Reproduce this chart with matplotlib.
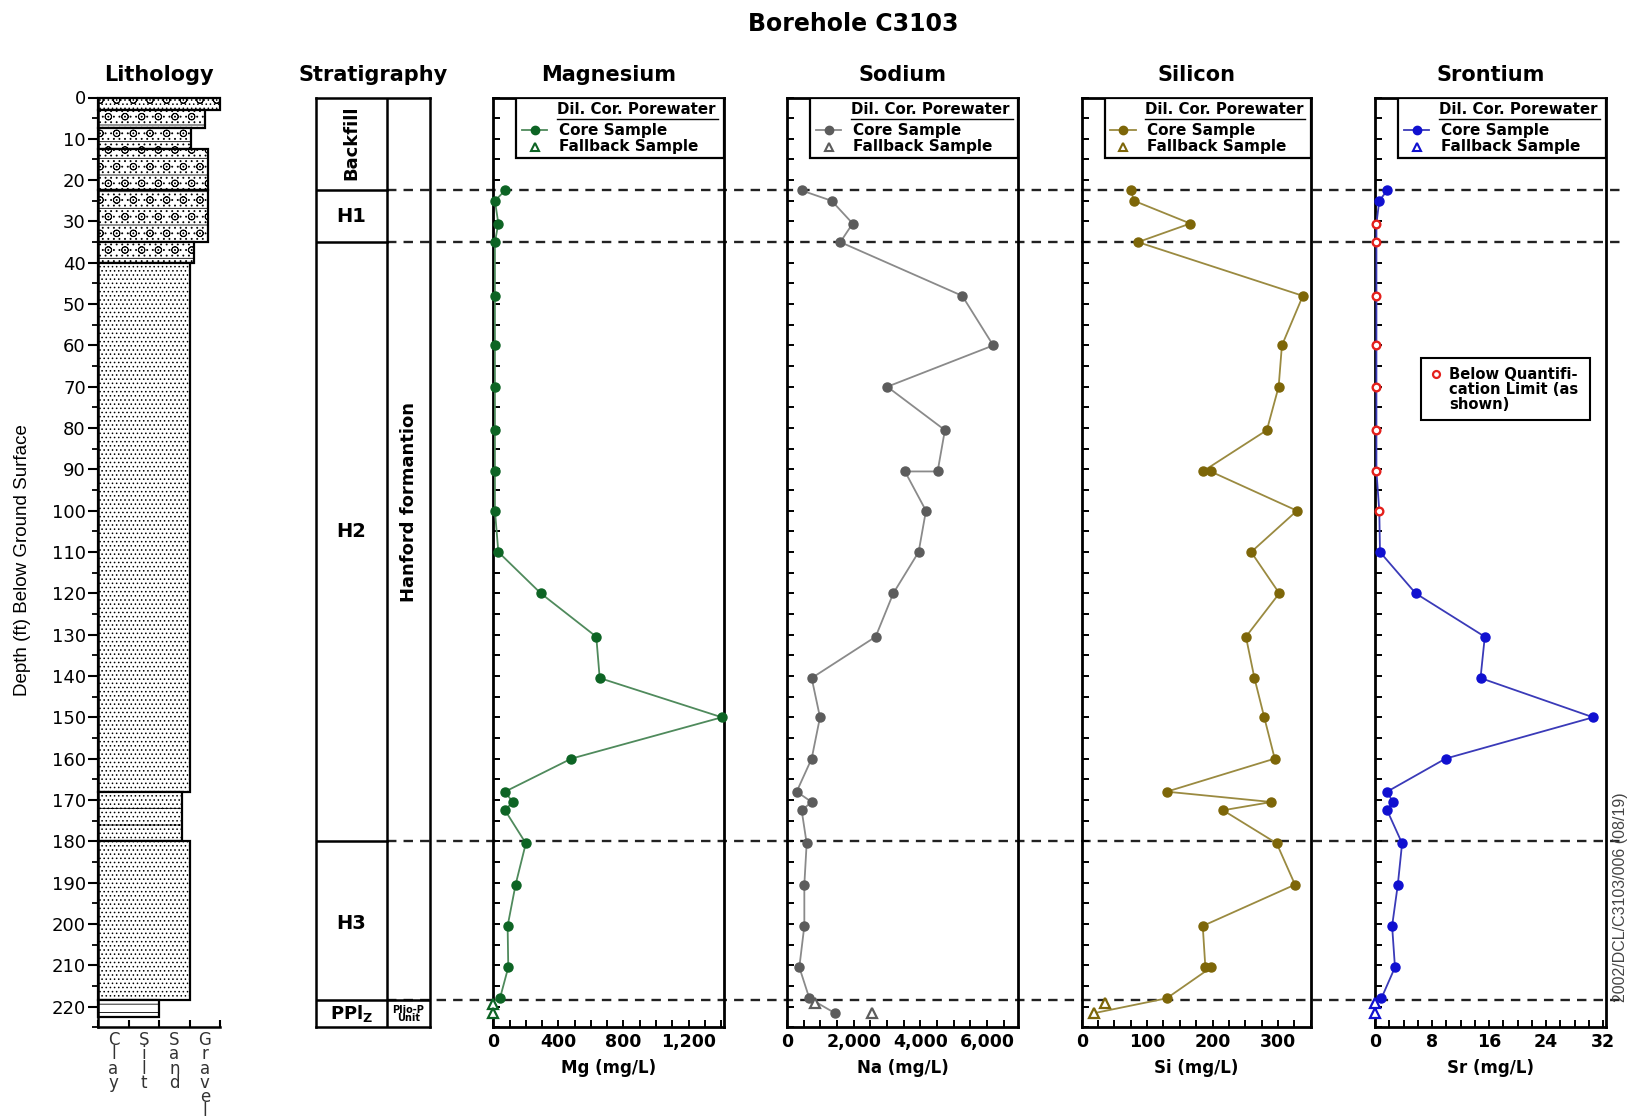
import matplotlib.pyplot as plt
import matplotlib.transforms as mtransforms
from matplotlib.patches import Rectangle
from matplotlib.ticker import MultipleLocator

plt.rcParams['font.family'] = ['DejaVu Sans']
plt.rcParams['hatch.linewidth'] = 0.6

# ---- data ----
depth_max = 225

# lithology: top / bottom of each bed (ft), grain size (0=clay .. 4=gravel)
litho_top = [0, 3, 7.5, 12.5, 22.5, 35, 40, 168, 180, 218.5]
litho_bot = [3, 7.5, 12.5, 22.5, 35, 40, 168, 180, 218.5, 222.5]
litho_size = [4.0, 3.5, 3.05, 3.6, 3.6, 3.15, 3.0, 2.75, 3.0, 2.0]
litho_hatch = ['o....', 'o-...', '-o...', 'o-...', 'o-...', '-o...', '....', '-....', '....', '--']
grain_labels = ['Clay', 'Silt', 'Sand', 'Gravel']

# stratigraphic boundaries (ft)
unit_bounds = [22.5, 35, 180, 218.5]
unit_names = ['Backfill', 'H1', 'H2', 'H3']
unit_mid = [11, 28.7, 105, 200]

# porewater chemistry
mg_depth = [22.5, 25, 30.5, 35, 48, 60, 70, 80.5, 90.5, 100, 110, 120, 130.5, 140.5,
            150, 160, 168, 170.5, 172.5, 180.5, 190.5, 200.5, 210.5, 218]
mg_val = [72, 10, 31, 10, 10, 10, 10, 10, 10, 10, 31, 292, 633, 654,
          1405, 480, 72, 119, 72, 200, 137, 88, 92, 41]
mg_fb_depth = [219.3, 221.6]
mg_fb_val = [0, 0]

na_depth = [22.5, 25, 30.5, 35, 48, 60, 70, 80.5, 90.5, 90.5, 100, 110, 120, 130.5,
            140.5, 150, 160, 168, 170.5, 172.5, 180.5, 190.5, 200.5, 210.5, 218, 221.6]
na_val = [440, 1340, 1970, 1600, 5258, 6188, 3008, 4738, 4519, 3539, 4169, 3949, 3189, 2660,
          740, 990, 740, 290, 740, 440, 590, 520, 520, 370, 670, 1440]
na_fb_depth = [219.2, 221.6]
na_fb_val = [840, 2540]

si_depth = [22.5, 25, 30.5, 35, 48, 60, 70, 80.5, 90.5, 90.5, 100, 110, 120, 130.5,
            140.5, 150, 160, 168, 170.5, 172.5, 180.5, 190.5, 200.5, 210.5, 210.5, 218, 221.6]
si_val = [75, 80, 166, 86, 338, 306, 301, 283, 185, 197, 329, 259, 302, 251,
          264, 279, 295, 130, 290, 216, 298, 326, 185, 189, 198, 130, 19]
si_fb_depth = [219.2, 221.6]
si_fb_val = [35, 19]

sr_depth = [22.5, 25, 30.5, 35, 48, 60, 70, 80.5, 90.5, 100, 110, 120, 130.5, 140.5,
            150, 160, 168, 170.5, 172.5, 180.5, 190.5, 200.5, 210.5, 218]
sr_val = [1.7, 0.6, 0.2, 0.2, 0.2, 0.2, 0.2, 0.2, 0.2, 0.6, 0.7, 5.7, 15.4, 14.8,
          30.6, 9.9, 1.7, 2.5, 1.7, 3.8, 3.2, 2.4, 2.8, 0.9]
sr_bql = [False, False, True, True, True, True, True, True, True, True, False, False, False, False,
          False, False, False, False, False, False, False, False, False, False]
sr_fb_depth = [219.2, 221.6]
sr_fb_val = [0, 0]

mg_ticks = [0, 400, 800, 1200]
na_ticks = [0, 2000, 4000, 6000]
si_ticks = [0, 100, 200, 300]
sr_ticks = [0, 8, 16, 24, 32]

W, H = 1627, 1120
fig = plt.figure(figsize=(W / 100, H / 100), dpi=100)
TOP, BOT = 97.5, 1027.2


def px_axes(x0, x1, y0=TOP, y1=BOT):
    return fig.add_axes([x0 / W, 1 - y1 / H, (x1 - x0) / W, (y1 - y0) / H])


# dashed unit boundaries running across all panels
ov = px_axes(387, 1622)
ov.set_xlim(0, 1)
ov.set_ylim(depth_max, 0)
ov.axis('off')
for d in unit_bounds:
    ov.axhline(d, color='#222222', lw=1.7, ls=(0, (4, 3)))

fig.text(853 / W, 1 - 24 / H, 'Borehole C3103', ha='center', va='center',
         fontsize=17, fontweight='bold')

# ---- lithology column ----
axL = px_axes(98.3, 220)
bars = axL.barh([(t + b) / 2 for t, b in zip(litho_top, litho_bot)], litho_size,
                height=[b - t for t, b in zip(litho_top, litho_bot)], left=0,
                color='white', edgecolor='black', linewidth=1.6, clip_on=False)
for bar, h in zip(bars, litho_hatch):
    bar.set_hatch(h)
axL.set_xlim(0, 4)
axL.set_ylim(depth_max, 0)
axL.spines['top'].set_visible(False)
axL.spines['right'].set_visible(False)
axL.spines['left'].set_linewidth(1.8)
axL.spines['bottom'].set_linewidth(1.8)
axL.set_yticks(range(0, 221, 10))
axL.yaxis.set_minor_locator(MultipleLocator(5))
axL.tick_params(axis='y', which='major', direction='out', length=7, width=1.5, labelsize=13, pad=2)
axL.tick_params(axis='y', which='minor', direction='out', length=4, width=1.3)
axL.set_xticks([0, 1, 2, 3, 4], labels=['', '', '', '', ''])
axL.set_xticks([0.5, 1.5, 2.5, 3.5], labels=['\n'.join(g) for g in grain_labels], minor=True)
axL.tick_params(axis='x', which='major', direction='in', length=5, width=1.5)
axL.tick_params(axis='x', which='minor', length=0, labelsize=12, pad=3)
for t in axL.get_xticklabels(minor=True):
    t.set_linespacing(0.72)
    t.set_color('#333333')
axL.set_title('Lithology', fontsize=15, fontweight='bold', pad=12)
fig.text(23 / W, 1 - 560 / H, 'Depth (ft) Below Ground Surface', rotation=90,
         ha='center', va='center', fontsize=13.5, family='Liberation Sans')

# ---- stratigraphy column ----
axS = px_axes(316, 430)
axS.set_facecolor('none')
axS.set_xlim(0, 1)
axS.set_ylim(depth_max, 0)
axS.set_xticks([])
axS.set_yticks([])
for s in axS.spines.values():
    s.set_linewidth(1.8)
split = 0.623
axS.axvline(split, color='black', lw=1.8)
for d in unit_bounds[:-1]:
    axS.plot([0, split], [d, d], color='black', lw=1.8)
axS.axhline(unit_bounds[-1], color='black', lw=1.8)
for name, m in zip(unit_names, unit_mid):
    axS.text(split / 2, m, name, ha='center', va='center', fontsize=14 if name != 'Backfill' else 13,
             fontweight='bold', rotation=90 if name == 'Backfill' else 0)
axS.text(split / 2, 221.8, r'$\mathbf{PPl_Z}$', ha='center', va='center', fontsize=13)
axS.text((1 + split) / 2, 221.8, 'Plio-P\nUnit', ha='center', va='center', fontsize=7,
         fontweight='bold', linespacing=0.85)
axS.text((1 + split) / 2, 98, 'Hanford formantion', ha='center', va='center', rotation=90,
         fontsize=13, fontweight='bold')
axS.set_title('Stratigraphy', fontsize=15, fontweight='bold', pad=12)


def legend_box(ax, line_c, mark_c):
    tr = mtransforms.blended_transform_factory(ax.transAxes, ax.transData)
    ax.add_patch(Rectangle((0.10, 0), 0.90, 14.6, transform=tr, facecolor='white',
                           edgecolor='black', lw=1.6, zorder=5))
    ax.text(0.275, 3.0, 'Dil. Cor. Porewater', transform=tr, va='center', fontsize=10.8,
            fontweight='bold', zorder=6)
    ax.plot([0.275, 0.975], [5.1, 5.1], transform=tr, color='black', lw=1, zorder=6)
    ax.plot([0.125, 0.235], [7.9, 7.9], transform=tr, color=line_c, lw=1.3, zorder=6)
    ax.plot([0.18], [7.9], transform=tr, marker='o', ms=6, color=mark_c, zorder=7)
    ax.text(0.285, 7.9, 'Core Sample', transform=tr, va='center', fontsize=11,
            fontweight='bold', zorder=6)
    ax.plot([0.18], [11.9], transform=tr, marker='^', ms=6, mfc='white', mec=mark_c,
            mew=1.5, zorder=7)
    ax.text(0.285, 11.9, 'Fallback Sample', transform=tr, va='center', fontsize=11,
            fontweight='bold', zorder=6)


def panel(x0, x1, xmax, ticks, tick_labels, minor, title, xlabel,
          depth, vals, fb_depth, fb_vals, line_c, mark_c, mark_idx=None):
    ax = px_axes(x0, x1)
    ax.set_facecolor('none')
    if mark_idx is None:
        mark_idx = list(range(len(vals)))
    ax.plot(vals, depth, color=line_c, lw=1.3, marker='o', ms=6.5, mfc=mark_c, mec=mark_c,
            markevery=mark_idx, clip_on=False, zorder=3)
    ax.plot(fb_vals, fb_depth, ls='none', marker='^', ms=7, mfc='white', mec=mark_c,
            mew=1.6, clip_on=False, zorder=4)
    ax.set_xlim(0, xmax)
    ax.set_ylim(depth_max, 0)
    ax.set_yticks(range(0, 221, 10))
    ax.yaxis.set_minor_locator(MultipleLocator(5))
    ax.tick_params(axis='y', which='both', direction='in', length=5, width=1.4,
                   labelleft=False)
    ax.set_xticks(ticks, labels=tick_labels, fontweight='bold')
    ax.xaxis.set_minor_locator(MultipleLocator(minor))
    ax.tick_params(axis='x', which='both', direction='in', length=5, width=1.4,
                   labelsize=12.5, pad=4)
    for s in ax.spines.values():
        s.set_linewidth(2)
    ax.set_title(title, fontsize=15, fontweight='bold', pad=12)
    ax.set_xlabel(xlabel, fontsize=12, fontweight='bold', labelpad=6)
    legend_box(ax, line_c, mark_c)
    return ax


panel(493.3, 723.5, 1415, mg_ticks, ['0', '400', '800', '1,200'], 100, 'Magnesium', 'Mg (mg/L)',
      mg_depth, mg_val, mg_fb_depth, mg_fb_val, '#4f8a5c', '#0d6424')
panel(787, 1018.3, 6940, na_ticks, ['0', '2,000', '4,000', '6,000'], 500, 'Sodium', 'Na (mg/L)',
      na_depth, na_val, na_fb_depth, na_fb_val, '#8a8a8a', '#5c5c5c')
panel(1081.7, 1310.7, 350, si_ticks, [str(t) for t in si_ticks], 25, 'Silicon', 'Si (mg/L)',
      si_depth, si_val, si_fb_depth, si_fb_val, '#9a8a40', '#7d6608',
      mark_idx=list(range(len(si_val) - 1)))
sr_idx = [i for i, b in enumerate(sr_bql) if not b]
axSr = panel(1375, 1606, 32.4, sr_ticks, [str(t) for t in sr_ticks], 2, 'Srontium', 'Sr (mg/L)',
             sr_depth, sr_val, sr_fb_depth, sr_fb_val, '#3a3ab8', '#1010d0', mark_idx=sr_idx)
axSr.plot([v for v, b in zip(sr_val, sr_bql) if b], [d for d, b in zip(sr_depth, sr_bql) if b],
          ls='none', marker='o', ms=5.5, mfc='white', mec='#e4201c', mew=1.7, clip_on=False, zorder=5)

# below-quantification-limit key
trS = mtransforms.blended_transform_factory(axSr.transAxes, axSr.transData)
axSr.add_patch(Rectangle((0.197, 63), 0.732, 15, transform=trS, facecolor='white',
                         edgecolor='black', lw=1.5, zorder=5))
axSr.plot([0.262], [66.8], transform=trS, ls='none', marker='o', ms=5, mfc='white',
          mec='#e4201c', mew=1.6, zorder=6)
axSr.text(0.322, 70.6, 'Below Quantifi-\ncation Limit (as\nshown)', transform=trS,
          va='center', fontsize=10.6, fontweight='bold', linespacing=1.0, zorder=6)

fig.text(1620 / W, 1 - 897 / H, '2002/DCL/C3103/006 (08/19)', rotation=90, ha='center',
         va='center', fontsize=11.5, color='#444444', family='Liberation Sans')

fig.savefig('out.png', dpi=100)
